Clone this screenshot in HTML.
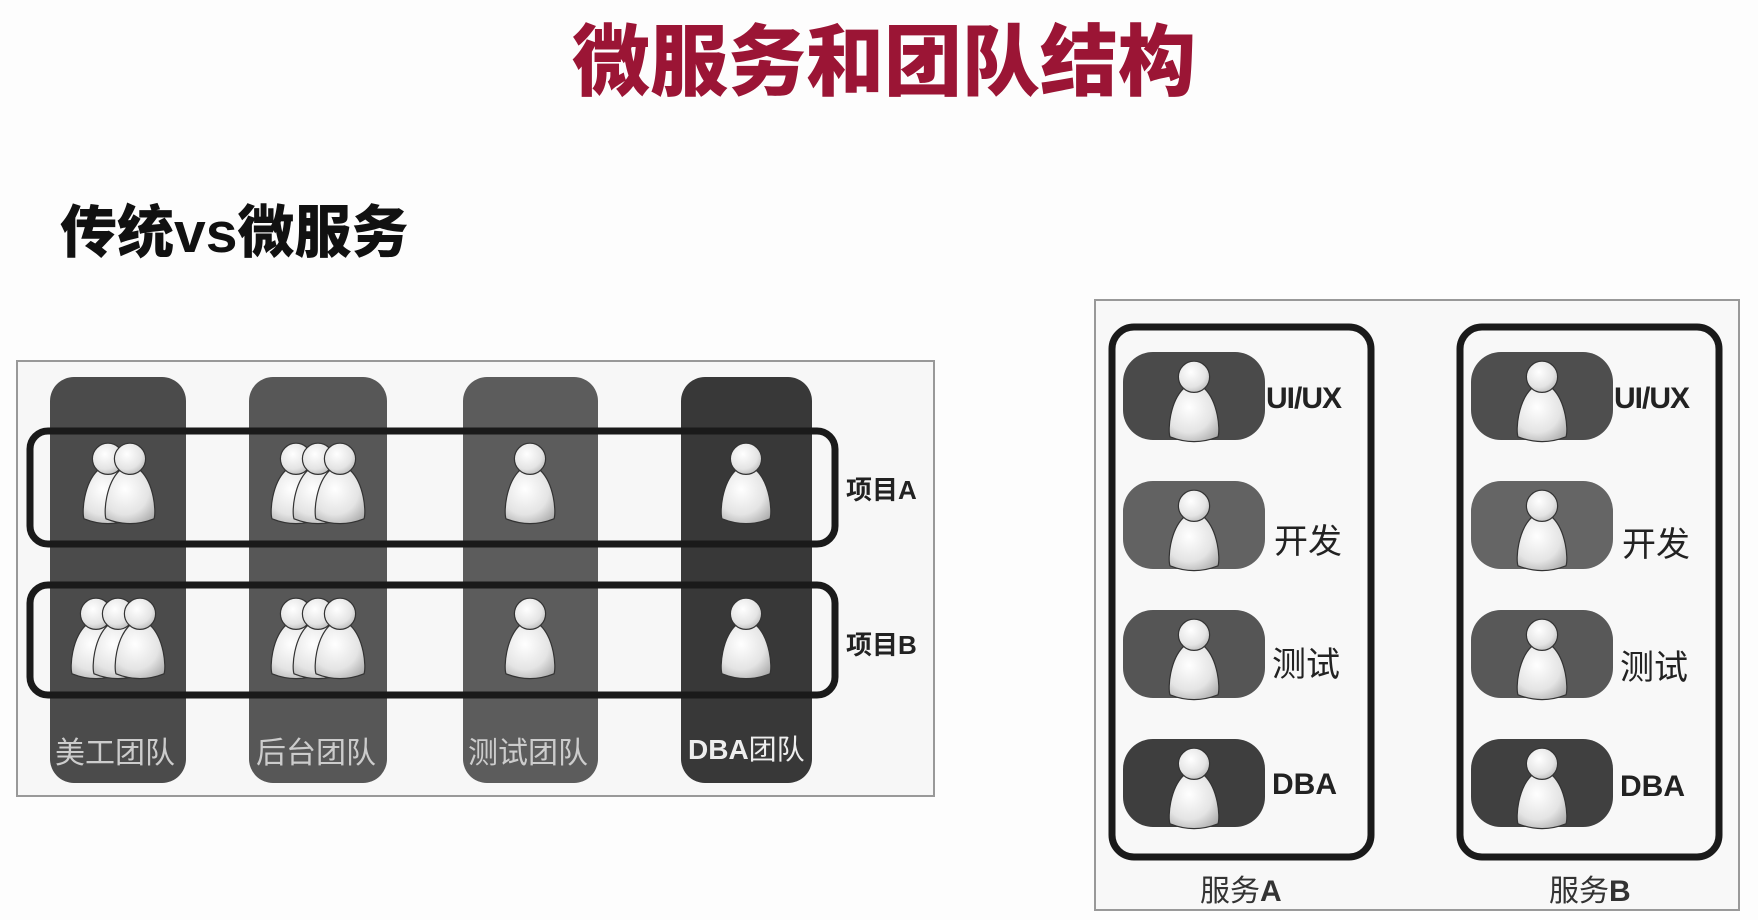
<!DOCTYPE html>
<html><head><meta charset="utf-8">
<style>
html,body{margin:0;padding:0;background:#fdfdfd;}
body{width:1758px;height:920px;position:relative;overflow:hidden;font-family:"Liberation Sans","Noto Sans CJK SC",sans-serif;}
.t{position:absolute;white-space:nowrap;font-family:"Liberation Sans","Noto Sans CJK SC",sans-serif;}
</style></head><body>
<div class="t" style="left:572px;top:14px;font-size:78px;font-weight:900;color:#9b1535;letter-spacing:0px;line-height:96px;">微服务和团队结构</div>
<div class="t" style="left:60px;top:198px;font-size:57px;font-weight:900;color:#111;line-height:70px;">传统vs微服务</div>

<svg width="1758" height="920" style="position:absolute;left:0;top:0" xmlns="http://www.w3.org/2000/svg">
<defs>
<radialGradient id="g" cx="0.4" cy="0.35" r="0.8">
<stop offset="0" stop-color="#ffffff"/><stop offset="0.6" stop-color="#e4e4e4"/><stop offset="1" stop-color="#a8a8a8"/>
</radialGradient>
<g id="p" transform="scale(1.2)">
<path d="M-9,-6 C-20,5 -22,28 -20,34 Q0,42 20,34 C22,28 20,5 9,-6 Z" fill="url(#g)" stroke="#333" stroke-width="1"/>
<circle cx="0" cy="-16" r="13" fill="url(#g)" stroke="#333" stroke-width="1"/>
</g>
</defs>
<rect x="17" y="361" width="917" height="435" fill="#f7f7f7" stroke="#999" stroke-width="2"/>
<rect x="50" y="377" width="136" height="406" rx="24" fill="#4b4b4b"/>
<rect x="249" y="377" width="138" height="406" rx="24" fill="#575757"/>
<rect x="463" y="377" width="135" height="406" rx="24" fill="#5c5c5c"/>
<rect x="681" y="377" width="131" height="406" rx="24" fill="#383838"/>
<rect x="30" y="431" width="805" height="113" rx="18" fill="none" stroke="#1a1a1a" stroke-width="7"/>
<rect x="30" y="585" width="805" height="110" rx="18" fill="none" stroke="#1a1a1a" stroke-width="7"/>
<use href="#p" x="108" y="478"/><use href="#p" x="130" y="478"/>
<use href="#p" x="296" y="478"/><use href="#p" x="318" y="478"/><use href="#p" x="340" y="478"/>
<use href="#p" x="530" y="478"/>
<use href="#p" x="746" y="478"/>
<use href="#p" x="96" y="633"/><use href="#p" x="118" y="633"/><use href="#p" x="140" y="633"/>
<use href="#p" x="296" y="633"/><use href="#p" x="318" y="633"/><use href="#p" x="340" y="633"/>
<use href="#p" x="530" y="633"/>
<use href="#p" x="746" y="633"/>
<rect x="1095" y="300" width="644" height="610" fill="#f8f8f8" stroke="#999" stroke-width="2"/>
<rect x="1112" y="327" width="259" height="530" rx="22" fill="none" stroke="#1a1a1a" stroke-width="7"/>
<rect x="1460" y="327" width="259" height="530" rx="22" fill="none" stroke="#1a1a1a" stroke-width="7"/>
<rect x="1123" y="352" width="142" height="88" rx="30" fill="#4a4a4a"/>
<rect x="1123" y="481" width="142" height="88" rx="30" fill="#626262"/>
<rect x="1123" y="610" width="142" height="88" rx="30" fill="#555"/>
<rect x="1123" y="739" width="142" height="88" rx="30" fill="#3e3e3e"/>
<rect x="1471" y="352" width="142" height="88" rx="30" fill="#4e4e4e"/>
<rect x="1471" y="481" width="142" height="88" rx="30" fill="#656565"/>
<rect x="1471" y="610" width="142" height="88" rx="30" fill="#585858"/>
<rect x="1471" y="739" width="142" height="88" rx="30" fill="#404040"/>
<use href="#p" x="1194" y="396"/><use href="#p" x="1194" y="525"/><use href="#p" x="1194" y="654"/><use href="#p" x="1194" y="783"/>
<use href="#p" x="1542" y="396"/><use href="#p" x="1542" y="525"/><use href="#p" x="1542" y="654"/><use href="#p" x="1542" y="783"/>
</svg>

<div class="t" style="left:846px;top:470px;font-size:26px;font-weight:bold;color:#222;">项目A</div>
<div class="t" style="left:846px;top:625px;font-size:26px;font-weight:bold;color:#222;">项目B</div>
<div class="t" style="left:55px;top:728px;font-size:30px;color:#ccc;">美工团队</div>
<div class="t" style="left:256px;top:728px;font-size:30px;color:#ccc;">后台团队</div>
<div class="t" style="left:468px;top:728px;font-size:30px;color:#ccc;">测试团队</div>
<div class="t" style="left:688px;top:728px;font-size:28px;color:#eee;"><b>DBA</b>团队</div>

<div class="t" style="left:1266px;top:382px;font-size:30px;font-weight:900;color:#222;letter-spacing:-1px;">UI/UX</div>
<div class="t" style="left:1274px;top:514px;font-size:34px;color:#222;">开发</div>
<div class="t" style="left:1272px;top:637px;font-size:34px;color:#222;">测试</div>
<div class="t" style="left:1272px;top:768px;font-size:30px;font-weight:900;color:#222;">DBA</div>
<div class="t" style="left:1614px;top:382px;font-size:30px;font-weight:900;color:#222;letter-spacing:-1px;">UI/UX</div>
<div class="t" style="left:1622px;top:517px;font-size:34px;color:#222;">开发</div>
<div class="t" style="left:1620px;top:640px;font-size:34px;color:#222;">测试</div>
<div class="t" style="left:1620px;top:770px;font-size:30px;font-weight:900;color:#222;">DBA</div>
<div class="t" style="left:1200px;top:866px;font-size:30px;color:#333;">服务<b>A</b></div>
<div class="t" style="left:1549px;top:866px;font-size:30px;color:#333;">服务<b>B</b></div>
</body></html>
